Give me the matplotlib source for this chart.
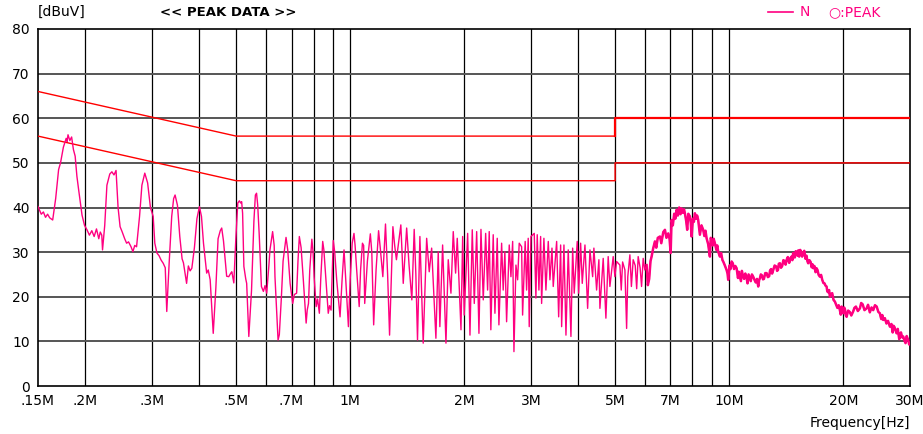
import matplotlib
matplotlib.use("Agg")
import matplotlib.pyplot as plt
import numpy as np

plt.rcParams['font.family'] = ['Liberation Sans Narrow', 'DejaVu Sans']

# measured trace (N line, peak detector), MHz / dBuV, read off the reference
# 0.15 - 1.53 MHz
freq_low = [
    0.150, 0.153, 0.155, 0.157, 0.159, 0.161, 0.164, 0.167, 0.170, 0.172, 0.175, 0.178, 0.179, 0.180,
    0.182, 0.184, 0.186, 0.188, 0.190, 0.192, 0.196, 0.199, 0.202, 0.205, 0.208, 0.211, 0.214, 0.217,
    0.219, 0.221, 0.222, 0.225, 0.228, 0.232, 0.235, 0.238, 0.241, 0.244, 0.247, 0.250, 0.254, 0.257,
    0.260, 0.264, 0.267, 0.270, 0.273, 0.278, 0.282, 0.287, 0.292, 0.297, 0.302, 0.305, 0.309, 0.313,
    0.317, 0.321, 0.325, 0.328, 0.333, 0.338, 0.342, 0.345, 0.350, 0.355, 0.360, 0.363, 0.370, 0.374,
    0.378, 0.382, 0.388, 0.394, 0.400, 0.405, 0.410, 0.418, 0.422, 0.427, 0.435, 0.442, 0.448, 0.454,
    0.458, 0.463, 0.468, 0.472, 0.478, 0.484, 0.487, 0.493, 0.499, 0.505, 0.510, 0.514, 0.517, 0.520,
    0.524, 0.530, 0.533, 0.540, 0.549, 0.557, 0.562, 0.566, 0.570, 0.575, 0.583, 0.590, 0.596, 0.602,
    0.610, 0.614, 0.624, 0.630, 0.633, 0.645, 0.650, 0.658, 0.665, 0.677, 0.684, 0.694, 0.705, 0.712,
    0.722, 0.728, 0.734, 0.742, 0.752, 0.765, 0.770, 0.776, 0.782, 0.792, 0.798, 0.803, 0.813, 0.820,
    0.829, 0.836, 0.846, 0.852, 0.863, 0.875, 0.882, 0.890, 0.902, 0.910, 0.921, 0.940, 0.952, 0.963,
    0.970, 0.979, 0.989, 1.000, 1.012, 1.023, 1.030, 1.040, 1.056, 1.065, 1.077, 1.085, 1.092, 1.110,
    1.130, 1.140, 1.153, 1.170, 1.188, 1.200, 1.219, 1.239, 1.255, 1.270, 1.296, 1.310, 1.324, 1.360,
    1.370, 1.380, 1.409, 1.430, 1.454, 1.475, 1.490, 1.505, 1.527,
]
level_low = [
    40.2, 38.5, 39.0, 37.8, 38.5, 37.7, 37.2, 42.0, 48.5, 50.0, 53.5, 55.5, 54.8, 56.3,
    55.0, 55.8, 53.0, 51.5, 47.0, 44.0, 38.3, 36.0, 35.0, 33.8, 34.8, 33.5, 35.2, 33.0,
    34.5, 33.8, 30.5, 36.0, 45.0, 47.5, 48.0, 47.3, 48.3, 40.0, 35.7, 34.6, 33.0, 32.0,
    32.3, 31.2, 30.1, 31.5, 31.2, 38.0, 45.0, 47.7, 45.5, 40.0, 38.0, 32.0, 29.8, 29.2,
    28.2, 27.5, 26.5, 16.7, 28.0, 38.0, 42.0, 42.8, 40.5, 33.5, 28.5, 27.6, 23.0, 26.9,
    25.8, 26.4, 31.0, 37.5, 40.2, 38.0, 32.0, 25.3, 26.0, 23.8, 11.8, 22.0, 33.0, 34.8,
    35.4, 32.5, 28.0, 24.6, 24.5, 25.3, 25.6, 23.1, 33.0, 41.0, 41.5, 41.0, 41.3, 38.7,
    26.8, 24.0, 23.0, 11.1, 21.5, 37.0, 42.8, 43.2, 40.5, 34.2, 22.3, 21.2, 22.5, 20.8,
    27.0, 30.5, 34.6, 31.5, 24.5, 10.3, 11.5, 19.7, 28.0, 33.3, 30.5, 23.0, 18.5, 20.5,
    20.8, 28.0, 33.5, 31.0, 23.8, 14.1, 17.0, 18.5, 26.0, 32.9, 30.0, 24.5, 17.8, 19.5,
    16.3, 24.0, 32.4, 30.5, 23.8, 16.3, 18.0, 17.0, 32.6, 30.0, 23.8, 15.5, 24.0, 30.5,
    26.0, 20.0, 13.3, 24.0, 32.0, 34.2, 31.5, 26.0, 17.8, 26.0, 32.0, 31.5, 18.5, 28.0,
    34.1, 30.0, 13.7, 26.0, 34.8, 31.0, 24.5, 36.3, 25.0, 11.4, 35.7, 31.5, 28.3, 36.1,
    30.0, 23.0, 35.4, 27.0, 19.3, 35.1, 25.0, 10.3, 33.5,
]

# 1.55 - 5.2 MHz
freq_mid = [
    1.558, 1.591, 1.616, 1.640, 1.683, 1.707, 1.724, 1.753, 1.789, 1.814, 1.844, 1.870, 1.897, 1.916,
    1.960, 1.980, 1.999, 2.041, 2.070, 2.099, 2.125, 2.156, 2.186, 2.213, 2.244, 2.277, 2.304, 2.327,
    2.350, 2.384, 2.409, 2.443, 2.468, 2.509, 2.533, 2.559, 2.586, 2.628, 2.655, 2.683, 2.704, 2.737,
    2.765, 2.792, 2.833, 2.850, 2.895, 2.920, 2.949, 2.967, 2.998, 3.059, 3.090, 3.115, 3.147, 3.180,
    3.199, 3.244, 3.284, 3.331, 3.365, 3.407, 3.433, 3.505, 3.548, 3.591, 3.613, 3.664, 3.709, 3.761,
    3.823, 3.863, 3.900, 3.972, 4.006, 4.055, 4.095, 4.163, 4.231, 4.291, 4.362, 4.395, 4.468, 4.531,
    4.559, 4.651, 4.728, 4.794, 4.844, 4.942, 4.993, 5.045, 5.147, 5.190,
]
level_mid = [
    9.6, 33.1, 25.6, 30.9, 10.7, 30.1, 13.3, 31.6, 9.6, 28.3, 20.8, 34.6, 25.3, 33.1,
    12.6, 33.5, 15.9, 34.2, 11.4, 35.0, 18.5, 34.6, 11.8, 35.1, 19.3, 34.2, 21.5, 34.6,
    12.6, 33.9, 16.3, 33.1, 13.7, 32.0, 21.5, 30.1, 14.4, 31.6, 24.5, 32.4, 7.7, 27.1,
    23.8, 32.0, 31.2, 15.9, 32.4, 21.5, 33.1, 13.3, 33.5, 34.2, 19.7, 33.9, 21.5, 33.5,
    18.5, 33.1, 21.5, 32.4, 23.8, 30.9, 22.3, 32.4, 15.5, 31.6, 13.3, 31.6, 11.4, 30.5,
    11.1, 30.9, 20.8, 32.4, 20.8, 32.0, 23.0, 31.6, 17.4, 30.5, 24.5, 30.9, 21.5, 28.3,
    17.4, 28.6, 15.2, 29.0, 22.3, 29.0, 24.5, 27.9, 27.1, 21.5,
]

# 5.2 - 10 MHz
freq_hi = [
    5.233, 5.280, 5.307, 5.362, 5.400, 5.470, 5.520, 5.580, 5.650, 5.700, 5.752, 5.820, 5.872, 5.930,
    5.990, 6.053, 6.100, 6.150, 6.200, 6.241, 6.300, 6.368, 6.420, 6.480, 6.566, 6.620, 6.700, 6.768,
    6.830, 6.906, 6.960, 7.007, 7.047, 7.100, 7.160, 7.210, 7.264, 7.320, 7.380, 7.440, 7.488, 7.550,
    7.600, 7.640, 7.700, 7.748, 7.800, 7.876, 7.920, 7.958, 8.020, 8.070, 8.119, 8.180, 8.230, 8.284,
    8.330, 8.369, 8.450, 8.539, 8.600, 8.660, 8.717, 8.800, 8.894, 8.940, 8.986, 9.050, 9.100, 9.168,
    9.250, 9.300, 9.354, 9.450, 9.520, 9.600, 9.643, 9.720, 9.800, 9.843, 9.900, 9.940,
]
level_hi = [
    27.8, 26.7, 26.0, 12.9, 24.5, 29.4, 22.3, 28.3, 27.0, 21.8, 29.0, 26.5, 22.3, 28.6,
    26.0, 27.1, 22.6, 24.0, 28.0, 29.0, 30.8, 32.4, 31.0, 33.2, 33.5, 32.0, 34.5, 35.0,
    33.2, 34.2, 33.0, 29.8, 37.2, 36.0, 38.6, 37.5, 39.5, 38.2, 40.0, 38.5, 39.8, 38.8,
    39.6, 38.7, 37.0, 35.0, 38.6, 38.0, 36.5, 33.5, 37.5, 36.8, 38.7, 37.5, 38.2, 37.2,
    35.5, 33.9, 36.0, 35.0, 33.6, 34.8, 33.1, 31.8, 29.0, 33.2, 32.7, 31.5, 33.0, 32.0,
    30.5, 31.5, 30.1, 29.0, 29.8, 28.2, 27.9, 27.2, 26.4, 26.0, 25.2, 23.8,
]

# 10 - 30 MHz
freq_top = [
    10.02, 10.08, 10.15, 10.22, 10.30, 10.38, 10.46, 10.55, 10.60, 10.67, 10.74, 10.80, 10.88, 10.95,
    11.03, 11.12, 11.18, 11.25, 11.32, 11.40, 11.48, 11.57, 11.66, 11.75, 11.84, 11.93, 12.00, 12.05,
    12.12, 12.20, 12.28, 12.35, 12.45, 12.55, 12.65, 12.75, 12.82, 12.90, 12.98, 13.07, 13.18, 13.30,
    13.38, 13.45, 13.52, 13.61, 13.70, 13.80, 13.90, 14.00, 14.09, 14.18, 14.28, 14.40, 14.50, 14.60,
    14.68, 14.75, 14.83, 14.90, 14.98, 15.06, 15.15, 15.22, 15.30, 15.40, 15.50, 15.58, 15.68, 15.78,
    15.90, 16.00, 16.08, 16.16, 16.28, 16.40, 16.50, 16.58, 16.66, 16.78, 16.90, 17.00, 17.10, 17.22,
    17.35, 17.48, 17.60, 17.72, 17.85, 17.95, 18.07, 18.15, 18.25, 18.35, 18.44, 18.56, 18.70, 18.85,
    19.01, 19.15, 19.30, 19.45, 19.59, 19.70, 19.80, 19.90, 19.99, 20.10, 20.20, 20.30, 20.41, 20.60,
    20.80, 21.00, 21.24, 21.40, 21.60, 21.85, 22.13, 22.30, 22.50, 22.75, 23.05, 23.25, 23.50, 23.75,
    23.99, 24.25, 24.50, 24.75, 24.98, 25.10, 25.20, 25.35, 25.49, 25.75, 26.00, 26.25, 26.55, 26.80,
    27.00, 27.15, 27.30, 27.50, 27.65, 27.85, 28.10, 28.25, 28.40, 28.60, 28.79, 29.00, 29.20, 29.40,
    29.68, 29.85, 30.00,
]
level_top = [
    27.0, 26.2, 27.9, 27.5, 26.2, 26.9, 26.4, 24.2, 25.6, 24.5, 23.5, 25.8, 24.6, 24.0,
    25.2, 24.1, 23.0, 25.0, 24.3, 23.5, 25.0, 24.5, 23.8, 23.2, 24.0, 22.3, 23.8, 24.1,
    25.0, 24.8, 23.9, 24.0, 25.3, 25.3, 24.4, 24.6, 25.9, 26.2, 25.2, 26.0, 27.0, 26.8,
    25.8, 26.0, 27.4, 27.5, 26.5, 26.9, 28.2, 28.0, 27.2, 28.3, 28.9, 27.6, 28.6, 29.0,
    28.2, 29.8, 29.0, 28.8, 30.2, 30.1, 29.2, 30.4, 29.0, 30.5, 30.0, 29.0, 29.8, 30.3,
    28.5, 29.2, 28.0, 27.5, 28.2, 27.8, 26.6, 27.3, 26.4, 26.9, 25.5, 26.4, 26.0, 24.9,
    24.5, 24.9, 23.8, 23.1, 23.0, 22.5, 22.3, 21.2, 21.0, 21.5, 20.0, 20.6, 20.8, 19.3,
    18.9, 18.2, 17.5, 18.1, 17.0, 16.0, 17.8, 16.9, 16.3, 17.6, 17.2, 15.9, 15.5, 16.9,
    16.6, 15.8, 16.7, 17.5, 17.8, 16.8, 17.4, 18.6, 18.3, 17.0, 17.4, 18.2, 16.5, 17.6,
    17.0, 18.1, 17.8, 16.6, 16.3, 15.5, 15.0, 15.9, 14.8, 15.2, 14.0, 14.6, 13.3, 13.9,
    12.0, 13.5, 13.2, 12.4, 11.8, 12.8, 10.5, 11.4, 12.0, 10.9, 11.1, 10.2, 9.6, 11.2,
    10.3, 9.3, 9.5,
]

# CISPR 22 class B limits
qp_freq = [0.15, 0.5, 5.0, 5.0, 30.0]
qp_level = [66, 56, 56, 60, 60]
av_freq = [0.15, 0.5, 5.0, 5.0, 30.0]
av_level = [56, 46, 46, 50, 50]

grid_freqs = [0.2, 0.3, 0.4, 0.5, 0.6, 0.7, 0.8, 0.9, 1, 2, 3, 4, 5, 6, 7, 8, 9, 10, 20]
tick_freqs = [0.15, 0.2, 0.3, 0.5, 0.7, 1, 2, 3, 5, 7, 10, 20, 30]
tick_labels = ['.15M', '.2M', '.3M', '.5M', '.7M', '1M', '2M', '3M', '5M', '7M', '10M', '20M', '30M']
y_ticks = [0, 10, 20, 30, 40, 50, 60, 70, 80]

pink = '#ff0080'

freq_mhz = np.array(freq_low + freq_mid + freq_hi + freq_top)
level_dbuv = np.array(level_low + level_mid + level_hi + level_top)

fig = plt.figure(figsize=(9.23, 4.34), dpi=100)
ax = fig.add_axes([38 / 923, 1 - 386 / 434, (910 - 38) / 923, (386 - 29) / 434])
ax.set_xscale('log')
ax.set_xlim(0.15, 30)
ax.set_ylim(0, 80)

for f in grid_freqs:
    ax.axvline(f, color='black', lw=0.9, zorder=1)
for y in y_ticks[1:-1]:
    ax.axhline(y, color='#555555', lw=1.4, zorder=1)

# limit lines
ax.plot(qp_freq[:3], qp_level[:3], color='red', lw=1.0, zorder=3)
ax.plot(qp_freq[2:], qp_level[2:], color='red', lw=1.6, zorder=3)
ax.plot(av_freq, av_level, color='red', lw=1.0, zorder=3)

ax.plot(freq_mhz, level_dbuv, color=pink, lw=1.0, zorder=4)
# noisy upper band looks thicker in the original
noisy = freq_mhz >= 6.0
ax.plot(freq_mhz[noisy], level_dbuv[noisy], color=pink, lw=1.8, zorder=4)

ax.set_xticks(tick_freqs)
ax.set_xticklabels(tick_labels)
ax.xaxis.set_minor_locator(matplotlib.ticker.NullLocator())
ax.set_yticks(y_ticks)
ax.tick_params(length=0, labelsize=10, pad=6)
for s in ax.spines.values():
    s.set_color('black')
    s.set_linewidth(1.2)

fig.text(38 / 923, 1 - 12 / 434, '[dBuV]', fontsize=10, va='center', ha='left')
fig.text(160 / 923, 1 - 12 / 434, '<< PEAK DATA >>', fontsize=9.5, fontweight='bold', va='center', ha='left')
fig.text(910 / 923, 1 - 423 / 434, 'Frequency[Hz]', fontsize=10, va='center', ha='right')

fig.add_artist(plt.Line2D([768 / 923, 793 / 923], [1 - 12 / 434, 1 - 12 / 434], color=pink, lw=1.2,
                          transform=fig.transFigure))
fig.text(800 / 923, 1 - 12 / 434, 'N', fontsize=10, color=pink, va='center', ha='left')
fig.text(828 / 923, 1 - 12 / 434, '○:PEAK', fontsize=10, color=pink, va='center', ha='left')

fig.savefig('out.png', dpi=100)
